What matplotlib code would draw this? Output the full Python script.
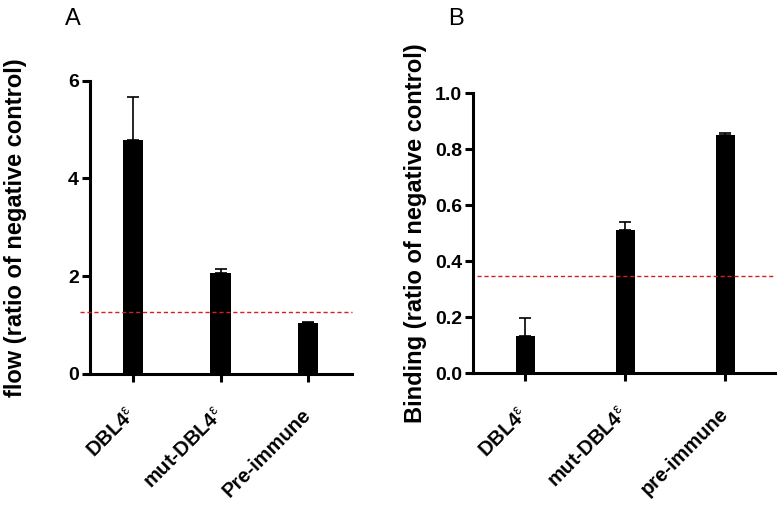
import matplotlib
matplotlib.use('Agg')
import matplotlib.pyplot as plt
import numpy as np

plt.rcParams['font.family'] = ['Liberation Sans', 'DejaVu Sans']
plt.rcParams['mathtext.fontset'] = 'custom'
plt.rcParams['mathtext.rm'] = 'Liberation Sans'

# Panel A data
cats_a = ['DBL4$^{\\mathrm{ε}}$', 'mut-DBL4$^{\\mathrm{ε}}$', 'Pre-immune']
vals_a = [4.78, 2.07, 1.05]
err_a = [0.88, 0.08, 0.02]
thr_a = 1.27
yticks_a = [0, 2, 4, 6]

# Panel B data
cats_b = ['DBL4$^{\\mathrm{ε}}$', 'mut-DBL4$^{\\mathrm{ε}}$', 'pre-immune']
vals_b = [0.133, 0.512, 0.851]
err_b = [0.066, 0.029, 0.006]
thr_b = 0.349
yticks_b = [0.0, 0.2, 0.4, 0.6, 0.8, 1.0]

W, H = 781, 505
fig = plt.figure(figsize=(W / 100, H / 100), dpi=100)

axA = fig.add_axes([90 / W, 1 - 374 / H, (352 - 90) / W, (374 - 80.7) / H])
axB = fig.add_axes([473.3 / W, 1 - 373.3 / H, (775 - 473.3) / W, (373.3 - 93.3) / H])


def style(ax, cats, vals, err, thr, yticks, ylim, xlim, width, ylabel, fmt, label_x, thr_xmin):
    x = np.arange(len(cats))
    ax.bar(x, vals, width=width, color='black', zorder=2)
    ax.errorbar(x, vals, yerr=[np.zeros(len(vals)), err], fmt='none', ecolor='black',
                elinewidth=1.2, capsize=4.3, capthick=1.2, zorder=3)
    ax.axhline(thr, xmin=thr_xmin, xmax=1.0, color='#d62020', lw=1.0,
               dashes=(3, 2), clip_on=False, zorder=4)
    ax.set_xlim(*xlim)
    ax.set_ylim(*ylim)
    ax.set_yticks(yticks)
    ax.set_yticklabels([fmt.format(v) for v in yticks], fontsize=14, fontweight='bold')
    ax.set_xticks(x)
    ax.set_xticklabels(cats, fontsize=14.5, fontweight='bold', rotation=45,
                       ha='right', va='center', rotation_mode='anchor')
    for s in ['top', 'right']:
        ax.spines[s].set_visible(False)
    for s in ['left', 'bottom']:
        ax.spines[s].set_linewidth(2.2)
    ax.tick_params(axis='both', direction='out', length=6, width=2.2)
    ax.tick_params(axis='y', pad=2)
    ax.tick_params(axis='x', pad=21)
    ax.set_ylabel(ylabel, fontsize=17, fontweight='bold')
    ax.yaxis.set_label_coords(label_x, 0.5)


style(axA, cats_a, vals_a, err_a, thr_a, yticks_a, (0, 6), (-0.49, 2.5), 0.235,
      'flow (ratio of negative control)', '{:.0f}', -0.24, -0.038)
style(axB, cats_b, vals_b, err_b, thr_b, yticks_b, (0, 1.0), (-0.517, 2.5), 0.19,
      'Binding (ratio of negative control)', '{:.1f}', -0.154, 0.012)

fig.text(65 / W, 1 - 25 / H, 'A', fontsize=17, ha='left', va='baseline')
fig.text(448 / W, 1 - 25 / H, 'B', fontsize=17, ha='left', va='baseline')

fig.savefig('out.png', dpi=100)
